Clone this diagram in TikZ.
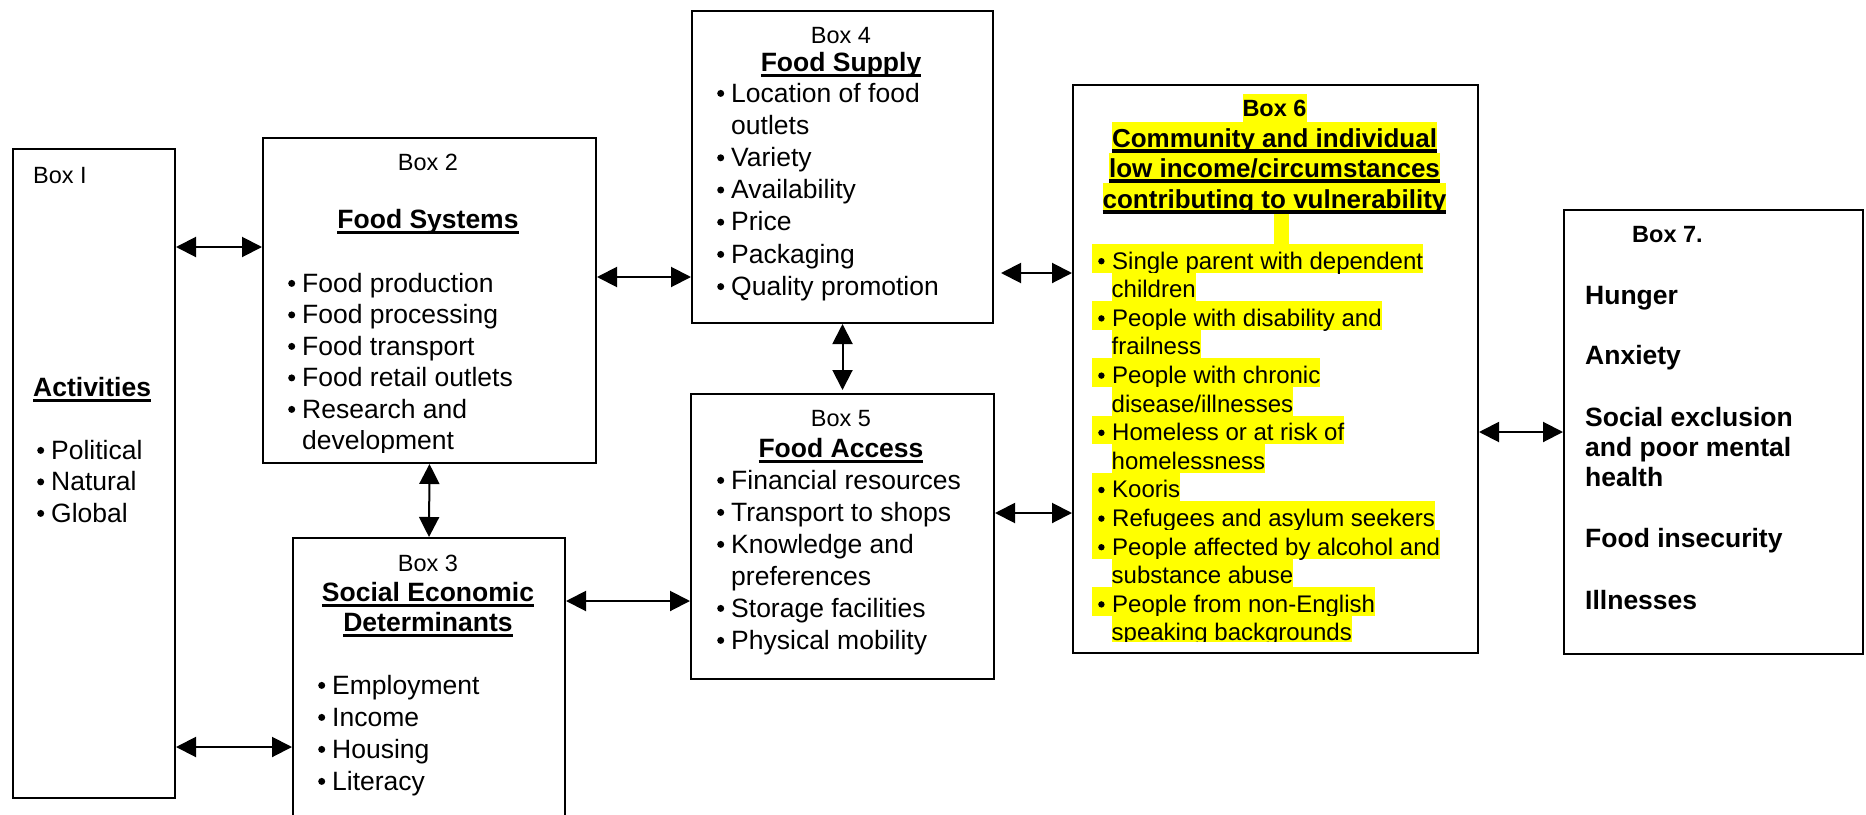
\documentclass[tikz,border=0pt]{standalone}
\usepackage{fontspec}
\setmainfont{Liberation Sans}
\usetikzlibrary{arrows.meta}
\definecolor{hly}{RGB}{255,255,0}
\newsavebox\ulb
\newcommand\uln[1]{\sbox\ulb{#1}\rlap{\rule[-5.8pt]{\wd\ulb}{2.8pt}}\usebox\ulb}
\newcommand\ulnb[1]{\sbox\ulb{#1}\rlap{\rule[-5.5pt]{\wd\ulb}{3.6pt}}\usebox\ulb}
\newcommand\dotb[2]{\tikz[baseline={(0pt,-#1)}]\fill[black] (0pt,0pt) circle (#2);}
\newcommand\bul{\makebox[15.5pt][l]{\hspace{1.5pt}\dotb{8.6pt}{3.5pt}}}
\newcommand\bulh{\makebox[20pt][l]{\hspace{6pt}\dotb{7.8pt}{3.2pt}}}
\tikzset{
  boxn/.style={draw, line width=2pt, inner sep=0pt, anchor=north west},
  lbl/.style={inner sep=0pt, anchor=base, font=\fontsize{23.5}{28}\selectfont},
  txt/.style={inner sep=0pt, anchor=base west, font=\fontsize{26.5}{32}\selectfont},
  hd/.style={inner sep=0pt, anchor=base, font=\fontsize{26.5}{32}\selectfont\bfseries},
  hdl/.style={inner sep=0pt, anchor=base west, font=\fontsize{26.5}{32}\selectfont\bfseries},
  hlab/.style={fill=hly, inner sep=0pt, anchor=base, text height=22pt, text depth=6pt, font=\fontsize{23.5}{28}\selectfont\bfseries},
  hhead/.style={fill=hly, inner sep=0pt, anchor=base, text height=25pt, text depth=6pt, font=\fontsize{26}{30.5}\selectfont\bfseries},
  hitem/.style={fill=hly, inner sep=0pt, anchor=base west, text height=25pt, text depth=3.6pt, font=\fontsize{24}{28.6}\selectfont},
  arr/.style={line width=2pt, {Triangle[length=20pt,width=20pt]}-{Triangle[length=20pt,width=20pt]}}
}
\begin{document}
\begin{tikzpicture}[x=1pt,y=-1pt]
\clip (0,0) rectangle (1866,814);
\fill[white] (0,0) rectangle (1866,814);
% boxes
\node[boxn, minimum width=162pt, minimum height=649pt] (b1) at (12,148) {};
\node[boxn, minimum width=333pt, minimum height=325pt] (b2) at (262,137) {};
\node[boxn, minimum width=272pt, minimum height=320pt] (b3) at (292,537) {};
\node[boxn, minimum width=301pt, minimum height=312pt] (b4) at (691,10) {};
\node[boxn, minimum width=303pt, minimum height=285pt] (b5) at (690,393) {};
\node[boxn, minimum width=405pt, minimum height=568pt] (b6) at (1072,84) {};
\node[boxn, minimum width=299pt, minimum height=444pt] (b7) at (1563,209) {};
% Box 1
\node[lbl, anchor=base west] (t1a) at (33,183) {Box I};
\node[hdl] (t1b) at (33,396) {\uln{Activities}};
\node[txt] (t1c) at (35.5,459) {\bul Political};
\node[txt] (t1d) at (35.5,490.5) {\bul Natural};
\node[txt] (t1e) at (35.5,522) {\bul Global};
% Box 2
\node[lbl] (t2a) at (428,170.5) {Box 2};
\node[hd] (t2b) at (428,228) {\uln{Food Systems}};
\node[txt] (t2c) at (286.5,292) {\bul Food production};
\node[txt] (t2d) at (286.5,323.5) {\bul Food processing};
\node[txt] (t2e) at (286.5,355) {\bul Food transport};
\node[txt] (t2f) at (286.5,386.5) {\bul Food retail outlets};
\node[txt] (t2g) at (286.5,418) {\bul Research and};
\begin{scope}
\clip (262,430) rectangle (595,452);
\node[txt] (t2h) at (302,449.5) {development};
\end{scope}
% Box 3
\node[lbl] (t3a) at (428,571.5) {Box 3};
\node[hd] (t3b) at (428,601) {\uln{Social Economic}};
\node[hd] (t3c) at (428,631) {\uln{Determinants}};
\node[txt] (t3d) at (316.5,694) {\bul Employment};
\node[txt] (t3e) at (316.5,726) {\bul Income};
\node[txt] (t3f) at (316.5,758) {\bul Housing};
\node[txt] (t3g) at (316.5,790) {\bul Literacy};
% Box 4
\node[lbl] (t4a) at (841,43.5) {Box 4};
\node[hd] (t4b) at (841,71) {\uln{Food Supply}};
\node[txt] (t4c) at (715.5,102) {\bul Location of food};
\node[txt] (t4d) at (731,134.2) {outlets};
\node[txt] (t4e) at (715.5,166.4) {\bul Variety};
\node[txt] (t4f) at (715.5,198.6) {\bul Availability};
\node[txt] (t4g) at (715.5,230.8) {\bul Price};
\node[txt] (t4h) at (715.5,263) {\bul Packaging};
\node[txt] (t4i) at (715.5,295.2) {\bul Quality promotion};
% Box 5
\node[lbl] (t5a) at (841,426.5) {Box 5};
\node[hd] (t5b) at (841,457) {\uln{Food Access}};
\node[txt] (t5c) at (715.5,489) {\bul Financial resources};
\node[txt] (t5d) at (715.5,521) {\bul Transport to shops};
\node[txt] (t5e) at (715.5,553) {\bul Knowledge and};
\node[txt] (t5f) at (731,585) {preferences};
\node[txt] (t5g) at (715.5,617) {\bul Storage facilities};
\node[txt] (t5h) at (715.5,649) {\bul Physical mobility};
% Box 6
\node[hlab] (t6a) at (1274.5,116) {Box 6};
\node[hhead] (t6b) at (1274.5,147) {\ulnb{Community and individual}};
\node[hhead] (t6c) at (1274.5,177.5) {\ulnb{low income/circumstances}};
\node[hhead] (t6d) at (1274.5,208) {\ulnb{contributing to vulnerability}};
\fill[hly] (1274,214) rectangle (1289,244);
\node[hitem] (t6e) at (1092,269) {\bulh Single parent with dependent};
\node[hitem] (t6f) at (1111.5,297.6) {children};
\node[hitem] (t6g) at (1092,326.2) {\bulh People with disability and};
\node[hitem] (t6h) at (1111.5,354.8) {frailness};
\node[hitem] (t6i) at (1092,383.4) {\bulh People with chronic};
\node[hitem] (t6j) at (1111.5,412) {disease/illnesses};
\node[hitem] (t6k) at (1092,440.6) {\bulh Homeless or at risk of};
\node[hitem] (t6l) at (1111.5,469.2) {homelessness};
\node[hitem] (t6m) at (1092,497.8) {\bulh Kooris};
\node[hitem] (t6n) at (1092,526.4) {\bulh Refugees and asylum seekers};
\node[hitem] (t6o) at (1092,555) {\bulh People affected by alcohol and};
\node[hitem] (t6p) at (1111.5,583.6) {substance abuse};
\node[hitem] (t6q) at (1092,612.2) {\bulh People from non-English};
\begin{scope}
\clip (1080,615) rectangle (1470,641);
\node[hitem] (t6r) at (1111.5,640.8) {speaking backgrounds};
\end{scope}
% Box 7
\node[lbl, anchor=base west, font=\fontsize{23.5}{28}\selectfont\bfseries] (t7a) at (1632,242.5) {Box 7.};
\node[hdl] (t7b) at (1585,304) {Hunger};
\node[hdl] (t7c) at (1585,364) {Anxiety};
\node[hdl] (t7d) at (1585,426) {Social exclusion};
\node[hdl] (t7e) at (1585,456) {and poor mental};
\node[hdl] (t7f) at (1585,486) {health};
\node[hdl] (t7g) at (1585,547) {Food insecurity};
\node[hdl] (t7h) at (1585,609) {Illnesses};
% connectors
\draw[arr] (b1.east |- 0,247) -- (b2.west |- 0,247);
\draw[arr] (b1.east |- 0,747) -- (b3.west |- 0,747);
\draw[arr] (b2.south) -- (b3.north);
\draw[arr] (b2.east |- 0,277) -- (b4.west |- 0,277);
\draw[arr] (b3.east |- 0,601) -- (b5.west |- 0,601);
\draw[arr, shorten >=3pt] (b4.south) -- (b5.north);
\draw[arr, shorten <=7pt] (b4.east |- 0,273) -- (b6.west |- 0,273);
\draw[arr] (b5.east |- 0,513) -- (b6.west |- 0,513);
\draw[arr] (b6.east |- 0,432) -- (b7.west |- 0,432);
\end{tikzpicture}
\end{document}
